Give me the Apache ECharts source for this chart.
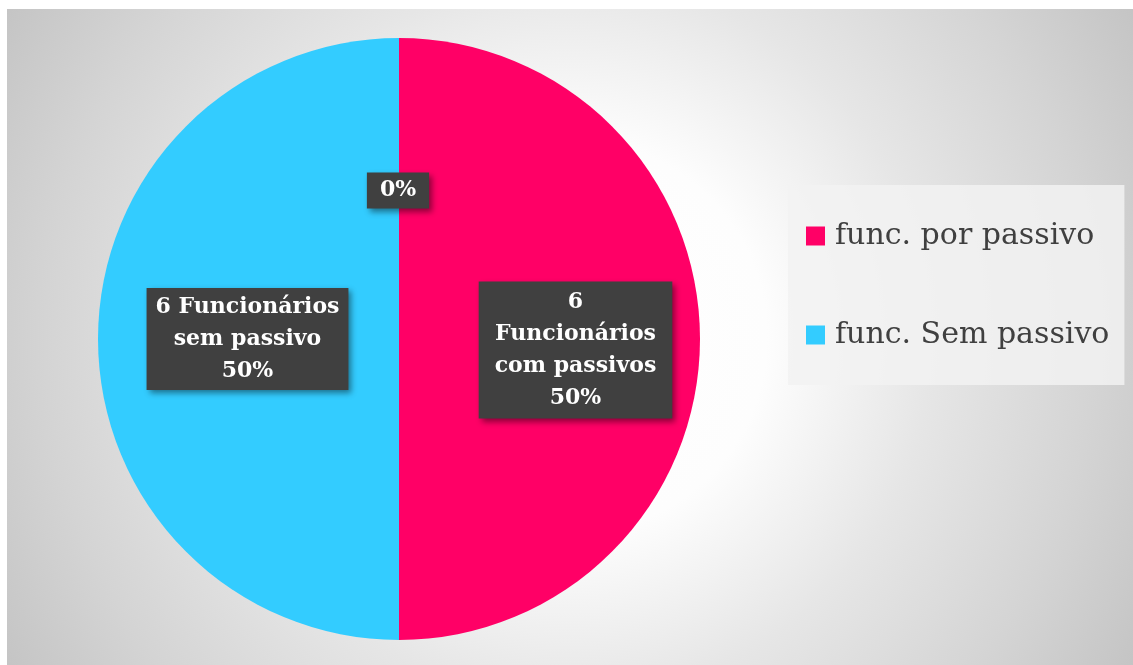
<!DOCTYPE html>
<html>
<head>
<meta charset="utf-8">
<script src="https://cdn.jsdelivr.net/npm/echarts@6/dist/echarts.min.js"></script>
<style>
  html, body { margin: 0; padding: 0; background: #fff; }
  #chart { position: absolute; left: 7px; top: 9px; width: 1126px; height: 656px; }
</style>
</head>
<body>
<div id="chart"></div>
<script>
// dados do gráfico
var categorias = ["func. por passivo", "func. Sem passivo", ""];
var valores = [6, 6, 0];
var rotulos = ["6\nFuncionários\ncom passivos", "6 Funcionários\nsem passivo", ""];
var cores = ["#FF0066", "#33CCFF", "#A5A5A5"];

var myChart = echarts.init(document.getElementById("chart"));

// estilo de cada rótulo (caixa escura)
var estilosRotulo = [
  { padding: [4, 16, 5, 16], offset: [23, 11] },
  { padding: [3, 9, 3, 9], offset: [2, 0] },
  { padding: [2, 13, 2, 13], offset: [-1, 5] },
];

var option = {
  backgroundColor: new echarts.graphic.RadialGradient(0.5, 0.5, 1.0, [
    { offset: 0, color: "#ffffff" },
    { offset: 0.3, color: "#fdfdfd" },
    { offset: 0.55, color: "#e6e6e6" },
    { offset: 0.8, color: "#d4d4d4" },
    { offset: 1, color: "#c4c4c4" },
  ]),
  legend: {
    orient: "vertical",
    left: 781,
    top: 176,
    data: categorias.slice(0, 2),
    icon: "rect",
    itemWidth: 19,
    itemHeight: 19,
    itemGap: 69,
    padding: [36, 15, 35, 18],
    backgroundColor: "rgba(242,242,242,0.85)",
    textStyle: {
      fontFamily: "DejaVu Serif",
      fontSize: 30,
      color: "#404040",
      padding: [0, 0, 0, 5],
    },
  },
  series: [
    {
      type: "pie",
      center: [392, 330],
      radius: [0, 301],
      startAngle: 90,
      clockwise: true,
      avoidLabelOverlap: false,
      silent: true,
      data: valores.map(function (v, i) {
        return {
          name: categorias[i],
          value: v,
          itemStyle: { color: cores[i] },
          label: estilosRotulo[i],
        };
      }),
      label: {
        show: true,
        position: "inside",
        formatter: function (params) {
          var txt = rotulos[params.dataIndex];
          return (txt ? txt + "\n" : "") + Math.round(params.percent) + "%";
        },
        color: "#ffffff",
        fontFamily: "DejaVu Serif",
        fontWeight: "bold",
        fontSize: 22,
        lineHeight: 32,
        align: "center",
        backgroundColor: "#404040",
        shadowColor: "rgba(0,0,0,0.45)",
        shadowBlur: 6,
        shadowOffsetX: 3,
        shadowOffsetY: 3,
      },
      labelLine: { show: false },
    },
  ],
};

option && myChart.setOption(option);
</script>
</body>
</html>
